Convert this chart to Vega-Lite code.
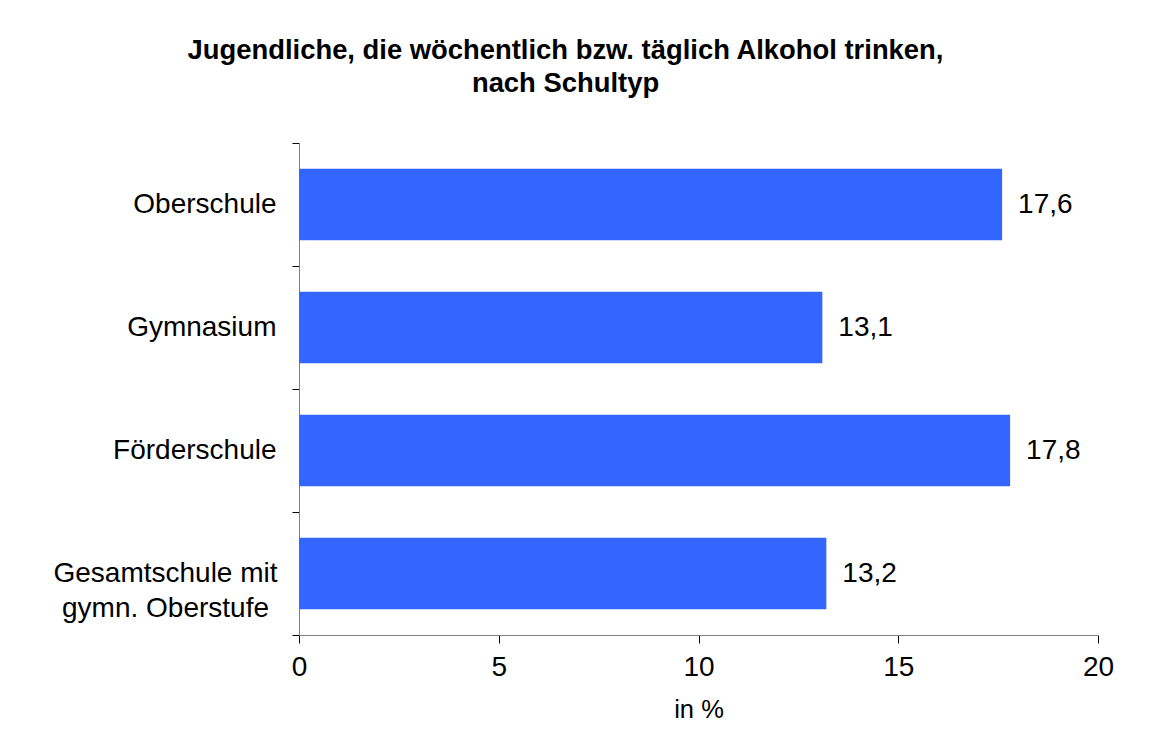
{
  "$schema": "https://vega.github.io/schema/vega-lite/v6.json",
  "width": 799,
  "height": 492,
  "autosize": {"type": "none"},
  "padding": {"left": 299, "top": 143, "right": 76, "bottom": 99},
  "background": "white",
  "config": {
    "font": "Liberation Sans",
    "view": {"stroke": null},
    "locale": {"number": {"decimal": ",", "thousands": ".", "grouping": [3], "currency": ["", " €"]}}
  },
  "title": {
    "text": ["Jugendliche, die wöchentlich bzw. täglich Alkohol trinken,", "nach Schultyp"],
    "font": "Liberation Sans",
    "fontSize": 27.4,
    "fontWeight": "bold",
    "color": "black",
    "anchor": "middle",
    "dx": -133,
    "lineHeight": 33,
    "offset": 32
  },
  "data": {
    "values": [
      {"Schultyp": "Oberschule", "Anteil": 17.6},
      {"Schultyp": "Gymnasium", "Anteil": 13.1},
      {"Schultyp": "Förderschule", "Anteil": 17.8},
      {"Schultyp": "Gesamtschule mit gymn. Oberstufe", "Anteil": 13.2}
    ]
  },
  "encoding": {
    "y": {
      "field": "Schultyp",
      "type": "nominal",
      "sort": null,
      "scale": {"paddingInner": 0, "paddingOuter": 0},
      "axis": {
        "title": null,
        "tickBand": "extent",
        "tickSize": 7,
        "tickColor": "black",
        "domainColor": "#808080",
        "labelFontSize": 28,
        "labelColor": "black",
        "labelLimit": 400,
        "labelLineHeight": 35,
        "labelBaseline": "middle",
        "labelAlign": {"condition": {"test": "datum.value == 'Gesamtschule mit gymn. Oberstufe'", "value": "center"}, "value": "right"},
        "labelPadding": {"condition": {"test": "datum.value == 'Gesamtschule mit gymn. Oberstufe'", "value": 127}, "value": 16},
        "labelExpr": "datum.value == 'Gesamtschule mit gymn. Oberstufe' ? ['Gesamtschule mit', 'gymn. Oberstufe'] : datum.label"
      }
    }
  },
  "layer": [
    {
      "mark": {"type": "bar", "color": "#3366FF", "height": {"band": 0.58}},
      "encoding": {
        "x": {
          "field": "Anteil",
          "type": "quantitative",
          "scale": {"domain": [0, 20], "nice": false},
          "axis": {
            "title": "in %",
            "titleFontSize": 25.5,
            "titleFontWeight": "normal",
            "titleColor": "black",
            "titlePadding": 16,
            "values": [0, 5, 10, 15, 20],
            "grid": false,
            "tickSize": 8,
            "tickColor": "black",
            "domainColor": "#808080",
            "labelFontSize": 28,
            "labelColor": "black",
            "labelPadding": 10,
            "labelFlush": false
          }
        }
      }
    },
    {
      "mark": {"type": "text", "align": "left", "baseline": "middle", "dx": 16, "fontSize": 28, "color": "black"},
      "encoding": {
        "x": {"field": "Anteil", "type": "quantitative"},
        "text": {"field": "Anteil", "type": "quantitative", "format": ".1f"}
      }
    }
  ]
}
